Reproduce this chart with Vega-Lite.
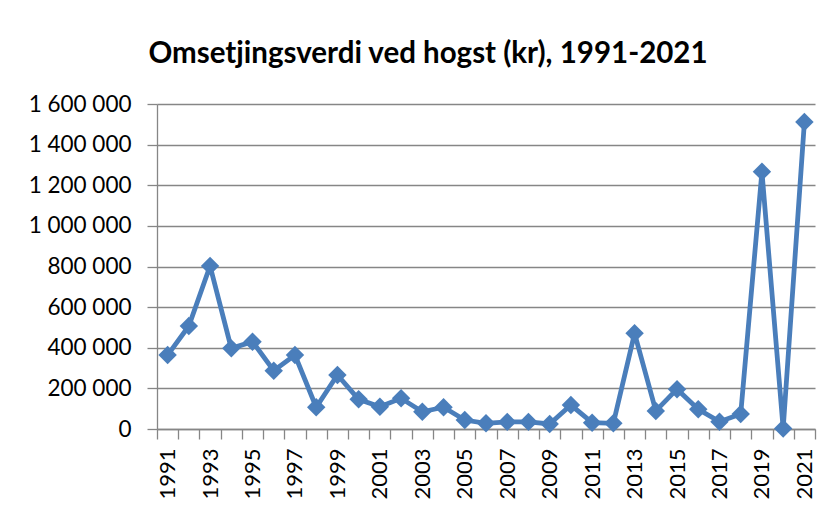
{
  "$schema": "https://vega.github.io/schema/vega-lite/v6.json",
  "width": 658,
  "height": 325,
  "autosize": {"type": "none"},
  "padding": {"left": 157, "top": 104, "right": 21, "bottom": 80},
  "background": "white",
  "config": {
    "locale": {"number": {"decimal": ",", "thousands": " ", "grouping": [3], "currency": ["", " kr"]}},
    "view": {"stroke": null},
    "font": "Lato"
  },
  "title": {
    "text": "Omsetjingsverdi ved hogst (kr), 1991-2021",
    "font": "Lato",
    "fontSize": 29.5,
    "fontWeight": "bold",
    "color": "#000000",
    "anchor": "middle",
    "dx": -58,
    "offset": 24
  },
  "data": {
    "values": [
      {"year": 1991, "value": 364000},
      {"year": 1992, "value": 507000},
      {"year": 1993, "value": 803000},
      {"year": 1994, "value": 397000},
      {"year": 1995, "value": 430000},
      {"year": 1996, "value": 287000},
      {"year": 1997, "value": 364000},
      {"year": 1998, "value": 107000},
      {"year": 1999, "value": 266000},
      {"year": 2000, "value": 146000},
      {"year": 2001, "value": 110000},
      {"year": 2002, "value": 151000},
      {"year": 2003, "value": 85000},
      {"year": 2004, "value": 107000},
      {"year": 2005, "value": 44000},
      {"year": 2006, "value": 28000},
      {"year": 2007, "value": 35000},
      {"year": 2008, "value": 35000},
      {"year": 2009, "value": 25000},
      {"year": 2010, "value": 118000},
      {"year": 2011, "value": 31000},
      {"year": 2012, "value": 28000},
      {"year": 2013, "value": 471000},
      {"year": 2014, "value": 89000},
      {"year": 2015, "value": 196000},
      {"year": 2016, "value": 97000},
      {"year": 2017, "value": 36000},
      {"year": 2018, "value": 74000},
      {"year": 2019, "value": 1267000},
      {"year": 2020, "value": 2000},
      {"year": 2021, "value": 1511000}
    ]
  },
  "resolve": {"axis": {"x": "independent"}},
  "layer": [
    {
      "mark": {"type": "line", "color": "#4A7EBB", "strokeWidth": 4.8},
      "encoding": {
        "x": {
          "field": "year", "type": "quantitative",
          "scale": {"domain": [1990.5, 2021.5], "nice": false, "zero": false},
          "axis": {
            "orient": "bottom",
            "title": null,
            "values": [1990.5,1991.5,1992.5,1993.5,1994.5,1995.5,1996.5,1997.5,1998.5,1999.5,2000.5,2001.5,2002.5,2003.5,2004.5,2005.5,2006.5,2007.5,2008.5,2009.5,2010.5,2011.5,2012.5,2013.5,2014.5,2015.5,2016.5,2017.5,2018.5,2019.5,2020.5,2021.5],
            "labels": false,
            "grid": false,
            "ticks": true,
            "tickSize": 10,
            "tickColor": "#868686",
            "tickWidth": 1.3,
            "domainColor": "#868686",
            "domainWidth": 1.3
          }
        },
        "y": {
          "field": "value", "type": "quantitative",
          "scale": {"domain": [0, 1600000], "nice": false},
          "axis": {
            "title": null,
            "values": [0, 200000, 400000, 600000, 800000, 1000000, 1200000, 1400000, 1600000],
            "format": ",d",
            "grid": true,
            "gridColor": "#868686",
            "gridWidth": 1.3,
            "gridOpacity": 1,
            "tickSize": 10,
            "tickColor": "#868686",
            "tickWidth": 1.3,
            "domainColor": "#868686",
            "domainWidth": 1.3,
            "labelFont": "Lato",
            "labelFontSize": 22.5,
            "labelColor": "#000000",
            "labelPadding": 16
          }
        }
      }
    },
    {
      "mark": {"type": "point", "shape": "diamond", "filled": true, "opacity": 1, "color": "#4A7EBB", "size": 340},
      "encoding": {
        "x": {
          "field": "year", "type": "quantitative",
          "axis": {
            "orient": "bottom",
            "title": null,
            "values": [1991,1993,1995,1997,1999,2001,2003,2005,2007,2009,2011,2013,2015,2017,2019,2021],
            "format": "d",
            "labelAngle": -90,
            "labelAlign": "right",
            "labelBaseline": "middle",
            "labelFont": "Lato",
            "labelFontSize": 22,
            "labelColor": "#000000",
            "labelPadding": 19,
            "ticks": false,
            "domain": false,
            "grid": false,
            "labelOverlap": false
          }
        },
        "y": {"field": "value", "type": "quantitative"}
      }
    }
  ]
}
